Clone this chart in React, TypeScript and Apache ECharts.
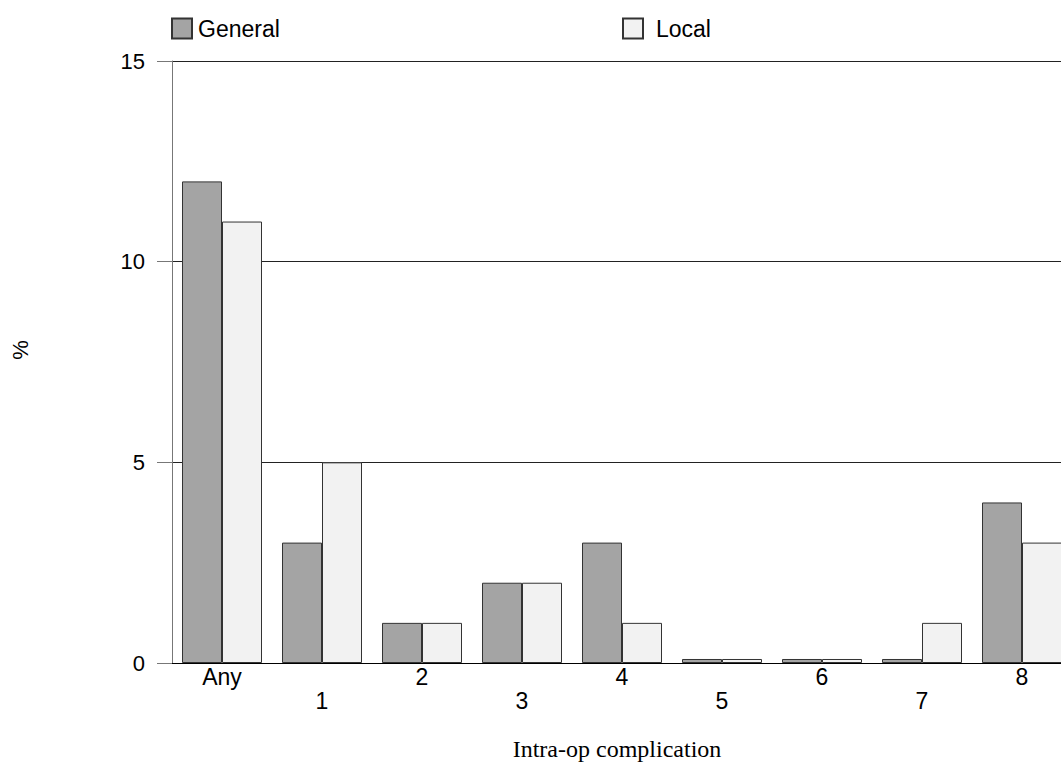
import React, { useEffect, useRef } from "react";
import * as echarts from "echarts";

const categories = ["Any", "1", "2", "3", "4", "5", "6", "7", "8"];
const generalValues = [12, 3, 1, 2, 3, 0.1, 0.1, 0.1, 4];
const localValues = [11, 5, 1, 2, 1, 0.1, 0.1, 1, 3];
const seriesNames = ["General", "Local"];
const xTitle = "Intra-op complication";
const yTitle = "%";

export default function App() {
  const ref = useRef<HTMLDivElement>(null);
  useEffect(() => {
    const chart = echarts.init(ref.current!, null, { renderer: "svg" });
    const font = "Liberation Sans, Arial, sans-serif";
    chart.setOption({
      animation: false,
      backgroundColor: "#fff",
      legend: [
        {
          data: [seriesNames[0]],
          left: 171,
          top: 17,
          padding: 0,
          itemWidth: 20,
          itemHeight: 20,
          icon: "rect",
          textStyle: { fontFamily: font, fontSize: 23, color: "#000", padding: [0, 0, 0, 1] },
          selectedMode: false,
        },
        {
          data: [seriesNames[1]],
          left: 622,
          top: 17,
          padding: 0,
          itemWidth: 20,
          itemHeight: 20,
          icon: "rect",
          textStyle: { fontFamily: font, fontSize: 23, color: "#000", padding: [0, 0, 0, 8] },
          selectedMode: false,
        },
      ],
      grid: { left: 172, top: 61, width: 900, height: 602 },
      xAxis: {
        type: "category",
        data: categories,
        axisLine: { lineStyle: { color: "#000", width: 1 } },
        axisTick: { show: false },
        axisLabel: {
          interval: 0,
          fontFamily: font,
          fontSize: 23,
          color: "#000",
          lineHeight: 24,
          margin: 2,
          formatter: (v: string, i: number) => (i % 2 === 1 ? "\n" + v : v),
        },
      },
      yAxis: {
        type: "value",
        min: 0,
        max: 15,
        interval: 5,
        axisLine: { show: true, lineStyle: { color: "#777", width: 1 } },
        axisTick: { show: true, length: 15, lineStyle: { color: "#777" } },
        axisLabel: { fontFamily: font, fontSize: 22, color: "#000", margin: 27 },
        splitLine: { show: true, lineStyle: { color: "#222", width: 1 } },
      },
      series: [
        {
          name: seriesNames[0],
          type: "bar",
          data: generalValues,
          barGap: "0%",
          barCategoryGap: "20%",
          itemStyle: { color: "#a4a4a4", borderColor: "#333", borderWidth: 1 },
        },
        {
          name: seriesNames[1],
          type: "bar",
          data: localValues,
          itemStyle: { color: "#f2f2f2", borderColor: "#333", borderWidth: 1 },
        },
      ],
      graphic: [
        {
          type: "text",
          x: 617,
          y: 749,
          style: {
            text: xTitle,
            font: "24px 'Liberation Serif', 'Times New Roman', serif",
            fill: "#000",
            align: "center",
            verticalAlign: "middle",
          },
        },
        {
          type: "text",
          x: 20,
          y: 350,
          rotation: Math.PI / 2,
          style: {
            text: yTitle,
            font: "22px 'Liberation Sans', Arial, sans-serif",
            fill: "#000",
            align: "center",
            verticalAlign: "middle",
          },
        },
      ],
    });
    return () => chart.dispose();
  }, []);
  return (
    <div
      ref={ref}
      style={{ position: "fixed", left: 0, top: 0, width: 1100, height: 765 }}
    />
  );
}
